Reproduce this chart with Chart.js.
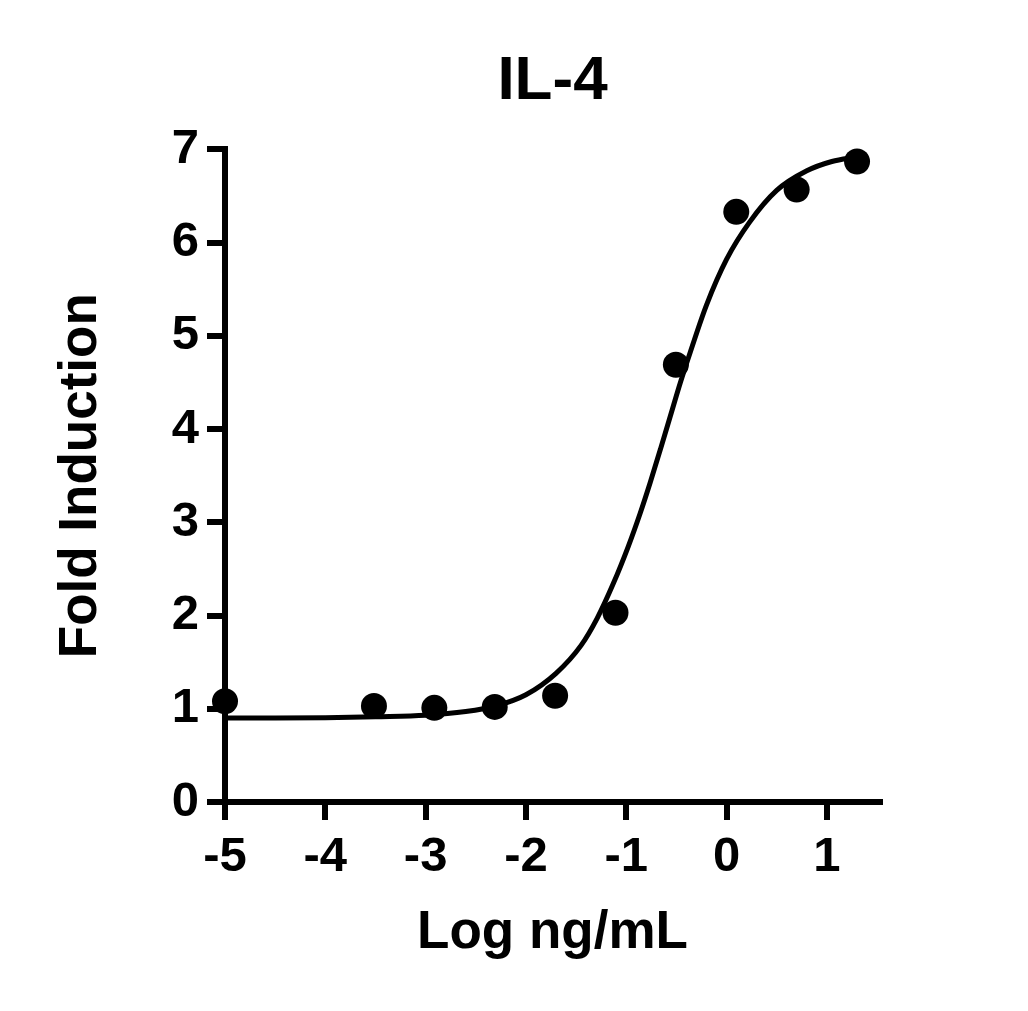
<!DOCTYPE html>
<html>
<head>
<meta charset="utf-8">
<title>IL-4</title>
<script src="https://cdn.jsdelivr.net/npm/chart.js@4/dist/chart.umd.min.js"></script>
<style>
    html, body { margin: 0; padding: 0; background: #fff; }
    #contenedor { width: 1028px; height: 1011px; }
</style>
</head>
<body>
<div id="contenedor"><canvas id="grafica"></canvas></div>
<script>
// Puntos medidos (log ng/mL, inducción)
const logDosis = [-5, -3.515, -2.913, -2.311, -1.709, -1.107, -0.505, 0.097, 0.699, 1.301];
const induccion = [1.08, 1.03, 1.01, 1.02, 1.14, 2.03, 4.69, 6.33, 6.57, 6.87];

// Curva ajustada
const curvaX = [-5, -4.5, -4, -3.5, -3, -2.6, -2.3, -2, -1.7, -1.45, -1.29, -1.13, -0.98, -0.86, -0.76, -0.66, -0.56, -0.46, -0.36, -0.2, 0, 0.23, 0.5, 0.8, 1.05, 1.3];
const curvaY = [0.9, 0.9, 0.905, 0.915, 0.93, 0.97, 1.03, 1.15, 1.38, 1.68, 1.97, 2.34, 2.74, 3.1, 3.43, 3.78, 4.14, 4.5, 4.83, 5.33, 5.82, 6.22, 6.56, 6.77, 6.87, 6.92];

const ticksX = [-5, -4, -3, -2, -1, 0, 1];
const ticksY = [0, 1, 2, 3, 4, 5, 6, 7];

const fuente = "'Liberation Sans', Arial, Helvetica, sans-serif";
Chart.defaults.font.family = fuente;
Chart.defaults.color = "#000";

const rejilla = {
    display: true,
    drawOnChartArea: false,
    drawTicks: true,
    tickLength: 18,
    tickWidth: 6,
    tickColor: "#000",
    color: "#000",
    lineWidth: 6,
};

const ctx = document.getElementById("grafica");
const grafica = new Chart(ctx, {
    type: "scatter",
    data: {
        datasets: [
            {
                label: "Ajuste",
                data: curvaX.map((x, i) => ({ x, y: curvaY[i] })),
                showLine: true,
                borderColor: "#000",
                borderWidth: 5,
                pointRadius: 0,
                cubicInterpolationMode: "monotone",
                clip: false,
            },
            {
                label: "IL-4",
                data: logDosis.map((x, i) => ({ x, y: induccion[i] })),
                backgroundColor: "#000",
                borderColor: "#000",
                pointRadius: 13,
                pointBorderWidth: 0,
                clip: false,
            },
        ],
    },
    options: {
        responsive: true,
        maintainAspectRatio: false,
        animation: false,
        layout: { padding: { left: 0, right: 148, top: 0, bottom: 0 } },
        plugins: {
            legend: { display: false },
            tooltip: { enabled: false },
            title: {
                display: true,
                text: "IL-4",
                fullSize: false,
                color: "#000",
                font: { size: 62, weight: "bold" },
                padding: { top: 45, bottom: 30 },
            },
        },
        scales: {
            x: {
                type: "linear",
                min: -5,
                max: 1.53,
                afterBuildTicks: (eje) => { eje.ticks = ticksX.map((v) => ({ value: v })); },
                afterFit: (eje) => { eje.height = 209; },
                border: { display: true, color: "#000", width: 6 },
                grid: rejilla,
                ticks: {
                    color: "#000",
                    font: { size: 49, weight: "bold" },
                    padding: 8,
                    maxRotation: 0,
                    autoSkip: false,
                    callback: (v) => String(v),
                },
                title: {
                    display: true,
                    text: "Log ng/mL",
                    color: "#000",
                    font: { size: 53, weight: "bold" },
                    padding: { top: 0, bottom: 46 },
                },
            },
            y: {
                type: "linear",
                min: 0,
                max: 7,
                afterBuildTicks: (eje) => { eje.ticks = ticksY.map((v) => ({ value: v })); },
                afterFit: (eje) => { eje.width = 225; },
                border: { display: true, color: "#000", width: 6 },
                grid: rejilla,
                ticks: {
                    color: "#000",
                    font: { size: 49, weight: "bold" },
                    padding: 8,
                    autoSkip: false,
                    callback: (v) => String(v),
                },
                title: {
                    display: true,
                    text: "Fold Induction",
                    color: "#000",
                    font: { size: 53, weight: "bold" },
                    padding: { top: 50, bottom: 0 },
                },
            },
        },
    },
});
</script>
</body>
</html>
